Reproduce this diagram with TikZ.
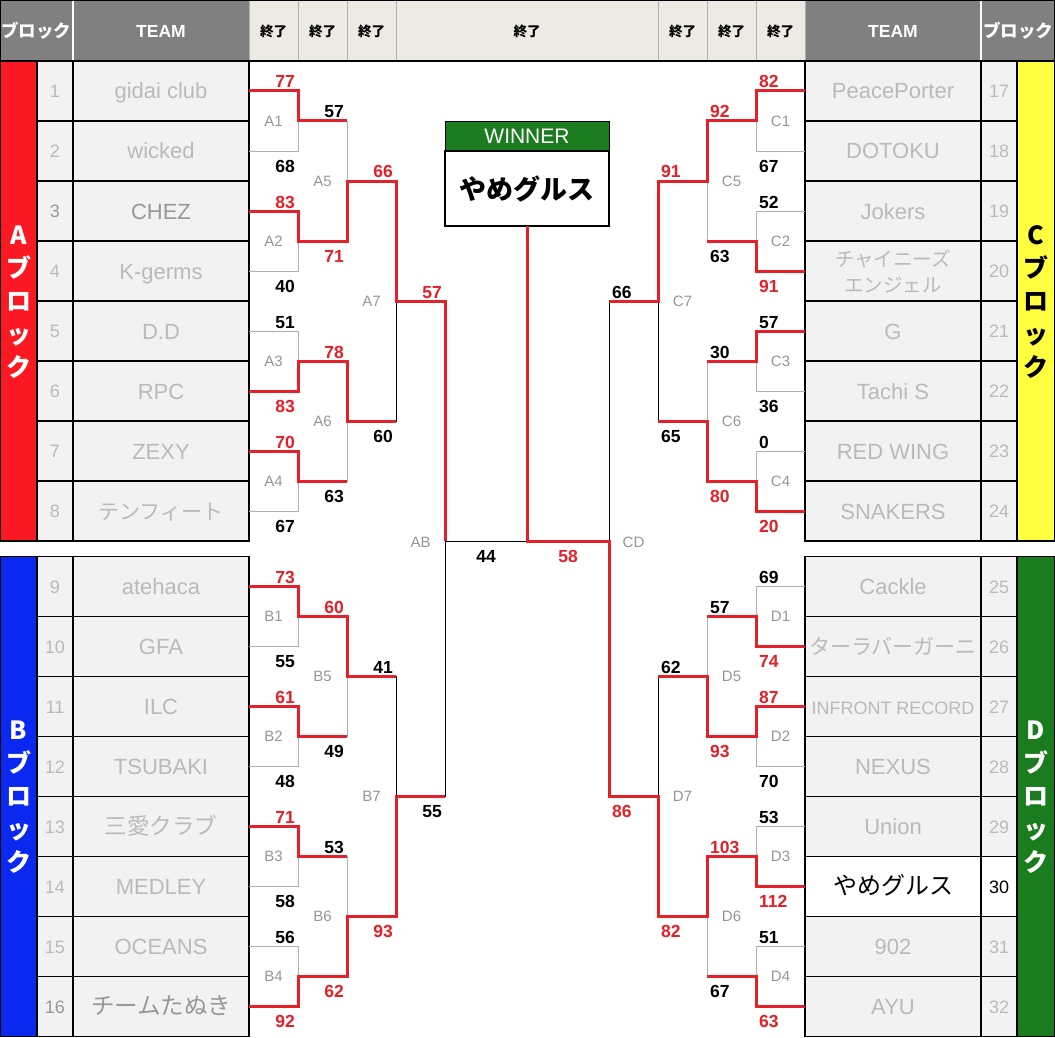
\documentclass[tikz,border=0pt]{standalone}
\usepackage{fontspec}
\setmainfont{Liberation Sans}
\newfontfamily\jp{Noto Sans CJK JP}
\definecolor{wred}{RGB}{228,32,40}
\definecolor{barA}{RGB}{250,25,35}
\definecolor{barB}{RGB}{10,40,240}
\definecolor{barC}{RGB}{255,255,64}
\definecolor{barD}{RGB}{26,124,30}
\definecolor{hdr}{RGB}{128,128,128}
\definecolor{hdrb}{RGB}{236,234,226}
\definecolor{cellbg}{RGB}{242,242,242}
\definecolor{tgray}{RGB}{186,186,186}
\definecolor{tdark}{RGB}{152,152,152}
\definecolor{mgray}{RGB}{150,150,150}
\definecolor{bgray}{RGB}{175,175,175}
\tikzset{
  gline/.style={draw=bgray, line width=0.9pt},
  kline/.style={draw=black, line width=1pt},
  rline/.style={draw=wred, line width=3pt, line join=miter},
  gridline/.style={draw=black, line width=1.2pt},
  teamst/.style={font=\fontsize{22}{26}\selectfont, anchor=base, inner sep=0pt},
  numst/.style={font=\fontsize{18}{20}\selectfont, anchor=base, inner sep=0pt},
  scorest/.style={font=\bfseries\fontsize{17.5}{20}\selectfont, inner sep=0pt},
  matchst/.style={font=\fontsize{15}{17}\selectfont, text=mgray, inner sep=0pt, anchor=center},
  hdrst/.style={font=\bfseries\fontsize{17.5}{20}\selectfont, text=white, anchor=base, inner sep=0pt},
  endst/.style={font=\jp\bfseries\fontsize{13.5}{15}\selectfont, text=black, anchor=base, inner sep=0pt},
  blockst/.style={font=\jp\bfseries\fontsize{25}{27}\selectfont, anchor=base, inner sep=0pt},
}
\newcount\scn
\newcommand\LA[4]{\global\advance\scn by 1 \node[scorest,text=#4,anchor=base east] (sc\the\scn) at ({#1-3},{#2-3}) {#3};}
\newcommand\LB[4]{\global\advance\scn by 1 \node[scorest,text=#4,anchor=base east] (sc\the\scn) at ({#1-3},{#2+21}) {#3};}
\newcommand\RA[4]{\global\advance\scn by 1 \node[scorest,text=#4,anchor=base west] (sc\the\scn) at ({#1+3},{#2-3}) {#3};}
\newcommand\RB[4]{\global\advance\scn by 1 \node[scorest,text=#4,anchor=base west] (sc\the\scn) at ({#1+3},{#2+21}) {#3};}
\newcommand\TeamL[4]{%
  \node[numst,text=#4] (nl#2) at (55,{#1+6.5}) {#2};
  \node[teamst,text=#4] (tl#2) at (161,{#1+8}) {#3};}
\newcommand\TeamR[4]{%
  \node[numst,text=#4] (nr#2) at (999,{#1+6.5}) {#2};
  \node[teamst,text=#4] (tr#2) at (893,{#1+8}) {#3};}
\begin{document}
\begin{tikzpicture}[x=1pt,y=-1pt]
\useasboundingbox (0,0) rectangle (1055,1038);
\fill[white] (0,0) rectangle (1055,1038);
% ---------- header ----------
\fill[hdr] (0,0) rectangle (249,61);
\fill[hdr] (805,0) rectangle (1055,61);
\fill[hdrb] (249,0) rectangle (805,61);
\foreach \x in {249,298,347,396,658,707,756,805}{\draw[gline] (\x,0) -- (\x,61);}
\draw[white, line width=1.5pt] (73,0) -- (73,61);
\draw[white, line width=1.5pt] (981,0) -- (981,61);
\draw[gridline] (0,0.6) -- (1055,0.6);
\draw[gridline] (0,61) -- (1055,61);
\draw[gridline] (0.6,0) -- (0.6,61);
\draw[gridline] (1054.4,0) -- (1054.4,61);
\node[hdrst] (hbl) at (36.5,38) {\jp ブロック};
\node[hdrst] (htl) at (161,38) {TEAM};
\node[hdrst] (htr) at (893,38) {TEAM};
\node[hdrst] (hbr) at (1018,38) {\jp ブロック};
\node[endst] (e1) at (273.5,37) {終了};
\node[endst] (e2) at (322.5,37) {終了};
\node[endst] (e3) at (371.5,37) {終了};
\node[endst] (e4) at (527,37) {終了};
\node[endst] (e5) at (682.5,37) {終了};
\node[endst] (e6) at (731.5,37) {終了};
\node[endst] (e7) at (780.5,37) {終了};
% ---------- team tables ----------
\fill[cellbg] (37,61) rectangle (249,541);
\fill[cellbg] (37,556.5) rectangle (249,1036.5);
\fill[cellbg] (805,61) rectangle (1017,541);
\fill[cellbg] (805,556.5) rectangle (1017,1036.5);
\fill[white] (805,856.5) rectangle (1017,916.5);
\fill[barA] (0,61) rectangle (37,541);
\fill[barB] (0,556.5) rectangle (37,1036.5);
\fill[barC] (1017,61) rectangle (1054,541);
\fill[barD] (1017,556.5) rectangle (1054,1036.5);
\foreach \t in {61,556.5}{
  \draw[gridline] (0.6,\t) rectangle (249,\t+480);
  \draw[gridline] (37,\t) -- (37,\t+480);
  \draw[gridline] (73,\t) -- (73,\t+480);
  \draw[gridline] (805,\t) rectangle (1054.4,\t+480);
  \draw[gridline] (981,\t) -- (981,\t+480);
  \draw[gridline] (1017,\t) -- (1017,\t+480);
  \foreach \k in {1,...,7}{
    \draw[gridline] (37,\t+60*\k) -- (249,\t+60*\k);
    \draw[gridline] (805,\t+60*\k) -- (1017,\t+60*\k);
  }
}
% block labels
\foreach \c [count=\i] in {A,ブ,ロ,ッ,ク}{
  \node[blockst,text=white] (ba\i) at (18.5,{235+33*(\i-1)+9}) {\c};
}
\foreach \c [count=\i] in {C,ブ,ロ,ッ,ク}{
  \node[blockst,text=black] (bc\i) at (1035.5,{235+33*(\i-1)+9}) {\c};
}
\foreach \c [count=\i] in {B,ブ,ロ,ッ,ク}{
  \node[blockst,text=white] (bb\i) at (18.5,{730.5+33*(\i-1)+9}) {\c};
}
\foreach \c [count=\i] in {D,ブ,ロ,ッ,ク}{
  \node[blockst,text=white] (bd\i) at (1035.5,{730.5+33*(\i-1)+9}) {\c};
}
% team names
\TeamL{91}{1}{gidai club}{tgray}
\TeamL{151}{2}{wicked}{tgray}
\TeamL{211}{3}{CHEZ}{tdark}
\TeamL{271}{4}{K-germs}{tgray}
\TeamL{331}{5}{D.D}{tgray}
\TeamL{391}{6}{RPC}{tgray}
\TeamL{451}{7}{ZEXY}{tgray}
\TeamL{511}{8}{{\jp\fontsize{21}{23}\selectfont テンフィート}}{tgray}
\TeamL{586.5}{9}{atehaca}{tgray}
\TeamL{646.5}{10}{GFA}{tgray}
\TeamL{706.5}{11}{ILC}{tgray}
\TeamL{766.5}{12}{TSUBAKI}{tgray}
\TeamL{826.5}{13}{{\jp\fontsize{22.5}{24}\selectfont 三愛クラブ}}{tgray}
\TeamL{886.5}{14}{MEDLEY}{tgray}
\TeamL{946.5}{15}{OCEANS}{tgray}
\TeamL{1006.5}{16}{{\jp\fontsize{23.5}{25}\selectfont チームたぬき}}{tdark}
\TeamR{91}{17}{PeacePorter}{tgray}
\TeamR{151}{18}{DOTOKU}{tgray}
\TeamR{211}{19}{Jokers}{tgray}
\node[numst,text=tgray] (nr20) at (999,277.5) {20};
\node[teamst,text=tgray,font=\jp\fontsize{19.5}{21}\selectfont] (tr20a) at (893,266) {チャイニーズ};
\node[teamst,text=tgray,font=\jp\fontsize{19.5}{21}\selectfont] (tr20b) at (893,292) {エンジェル};
\TeamR{331}{21}{G}{tgray}
\TeamR{391}{22}{Tachi S}{tgray}
\TeamR{451}{23}{RED WING}{tgray}
\TeamR{511}{24}{SNAKERS}{tgray}
\TeamR{586.5}{25}{Cackle}{tgray}
\TeamR{646.5}{26}{{\jp\fontsize{21}{23}\selectfont ターラバーガーニ}}{tgray}
\TeamR{706.5}{27}{{\fontsize{18}{20}\selectfont INFRONT RECORD}}{tgray}
\TeamR{766.5}{28}{NEXUS}{tgray}
\TeamR{826.5}{29}{Union}{tgray}
\TeamR{886.5}{30}{{\jp\fontsize{24}{26}\selectfont やめグルス}}{black}
\TeamR{946.5}{31}{902}{tgray}
\TeamR{1006.5}{32}{AYU}{tgray}
% ---------- bracket thin lines ----------
\foreach \t/\b in {91/151,211/271,331/391,451/511,586.5/646.5,706.5/766.5,826.5/886.5,946.5/1006.5}{
  \draw[gline] (249,\t) -- (298,\t) -- (298,\b) -- (249,\b);
  \draw[gline] (805,\t) -- (756,\t) -- (756,\b) -- (805,\b);
}
\foreach \t/\b in {121/241,361/481,616.5/736.5,856.5/976.5}{
  \draw[gline] (298,\t) -- (347,\t) -- (347,\b) -- (298,\b);
  \draw[gline] (756,\t) -- (707,\t) -- (707,\b) -- (756,\b);
}
\foreach \t/\b in {181/421,676.5/916.5}{
  \draw[kline] (347,\t) -- (396,\t) -- (396,\b) -- (347,\b);
  \draw[kline] (707,\t) -- (658,\t) -- (658,\b) -- (707,\b);
}
\draw[kline] (396,301) -- (445,301) -- (445,796.5) -- (396,796.5);
\draw[kline] (658,301) -- (609,301) -- (609,796.5) -- (658,796.5);
\draw[kline] (445,541) -- (609,541);
% ---------- winner box ----------
\fill[barD] (445,122) rectangle (609,151.5);
\draw[black, line width=1pt] (445,122) rectangle (609,151.5);
\node[font=\fontsize{21}{23}\selectfont, text=white, anchor=base, inner sep=0pt] (win) at (527,144) {WINNER};
\draw[black, line width=2pt, fill=white] (445,151.5) rectangle (609,226);
\node[font=\jp\bfseries\fontsize{27}{29}\selectfont, anchor=base, inner sep=0pt] (champ) at (527,200) {やめグルス};
% ---------- red paths ----------
\draw[rline] (249,91) -- (298,91) -- (298,121) -- (347,121);
\draw[rline] (249,211) -- (298,211) -- (298,241) -- (347,241) -- (347,181) -- (396,181) -- (396,301) -- (445,301) -- (445,541);
\draw[rline] (249,391) -- (298,391) -- (298,361) -- (347,361) -- (347,421) -- (396,421);
\draw[rline] (249,451) -- (298,451) -- (298,481) -- (347,481);
\draw[rline] (249,586.5) -- (298,586.5) -- (298,616.5) -- (347,616.5) -- (347,676.5) -- (396,676.5);
\draw[rline] (249,706.5) -- (298,706.5) -- (298,736.5) -- (347,736.5);
\draw[rline] (249,826.5) -- (298,826.5) -- (298,856.5) -- (347,856.5);
\draw[rline] (249,1006.5) -- (298,1006.5) -- (298,976.5) -- (347,976.5) -- (347,916.5) -- (396,916.5) -- (396,796.5) -- (445,796.5);
\draw[rline] (805,91) -- (756,91) -- (756,121) -- (707,121) -- (707,181) -- (658,181) -- (658,301) -- (609,301);
\draw[rline] (805,271) -- (756,271) -- (756,241) -- (707,241);
\draw[rline] (805,331) -- (756,331) -- (756,361) -- (707,361);
\draw[rline] (805,511) -- (756,511) -- (756,481) -- (707,481) -- (707,421) -- (658,421);
\draw[rline] (805,646.5) -- (756,646.5) -- (756,616.5) -- (707,616.5);
\draw[rline] (805,706.5) -- (756,706.5) -- (756,736.5) -- (707,736.5) -- (707,676.5) -- (658,676.5);
\draw[rline] (805,886.5) -- (756,886.5) -- (756,856.5) -- (707,856.5) -- (707,916.5) -- (658,916.5) -- (658,796.5) -- (609,796.5) -- (609,541) -- (527,541) -- (champ.south |- 0,226);
\draw[rline] (805,1006.5) -- (756,1006.5) -- (756,976.5) -- (707,976.5);
% ---------- match labels ----------
\foreach \n/\y in {1/121,2/241,3/361,4/481}{
  \node[matchst] (mA\n) at (273.5,\y) {A\n};
  \node[matchst] (mC\n) at (780.5,\y) {C\n};
}
\foreach \n/\y in {1/616.5,2/736.5,3/856.5,4/976.5}{
  \node[matchst] (mB\n) at (273.5,\y) {B\n};
  \node[matchst] (mD\n) at (780.5,\y) {D\n};
}
\node[matchst] (mA5) at (322.5,181) {A5};
\node[matchst] (mA6) at (322.5,421) {A6};
\node[matchst] (mA7) at (371.5,301) {A7};
\node[matchst] (mB5) at (322.5,676.5) {B5};
\node[matchst] (mB6) at (322.5,916.5) {B6};
\node[matchst] (mB7) at (371.5,796.5) {B7};
\node[matchst] (mC5) at (731.5,181) {C5};
\node[matchst] (mC6) at (731.5,421) {C6};
\node[matchst] (mC7) at (682.5,301) {C7};
\node[matchst] (mD5) at (731.5,676.5) {D5};
\node[matchst] (mD6) at (731.5,916.5) {D6};
\node[matchst] (mD7) at (682.5,796.5) {D7};
\node[matchst] (mAB) at (420.5,542) {AB};
\node[matchst] (mCD) at (633.5,542) {CD};
% ---------- scores ----------
\LA{298}{91}{77}{wred}
\LB{298}{151}{68}{black}
\LA{298}{211}{83}{wred}
\LB{298}{271}{40}{black}
\LA{298}{331}{51}{black}
\LB{298}{391}{83}{wred}
\LA{298}{451}{70}{wred}
\LB{298}{511}{67}{black}
\LA{298}{586.5}{73}{wred}
\LB{298}{646.5}{55}{black}
\LA{298}{706.5}{61}{wred}
\LB{298}{766.5}{48}{black}
\LA{298}{826.5}{71}{wred}
\LB{298}{886.5}{58}{black}
\LA{298}{946.5}{56}{black}
\LB{298}{1006.5}{92}{wred}
\LA{347}{121}{57}{black}
\LB{347}{241}{71}{wred}
\LA{347}{361}{78}{wred}
\LB{347}{481}{63}{black}
\LA{347}{616.5}{60}{wred}
\LB{347}{736.5}{49}{black}
\LA{347}{856.5}{53}{black}
\LB{347}{976.5}{62}{wred}
\LA{396}{181}{66}{wred}
\LB{396}{421}{60}{black}
\LA{396}{676.5}{41}{black}
\LB{396}{916.5}{93}{wred}
\LA{445}{301}{57}{wred}
\LB{445}{796.5}{55}{black}
\RA{756}{91}{82}{wred}
\RB{756}{151}{67}{black}
\RA{756}{211}{52}{black}
\RB{756}{271}{91}{wred}
\RA{756}{331}{57}{black}
\RB{756}{391}{36}{black}
\RA{756}{451}{0}{black}
\RB{756}{511}{20}{wred}
\RA{756}{586.5}{69}{black}
\RB{756}{646.5}{74}{wred}
\RA{756}{706.5}{87}{wred}
\RB{756}{766.5}{70}{black}
\RA{756}{826.5}{53}{black}
\RB{756}{886.5}{112}{wred}
\RA{756}{946.5}{51}{black}
\RB{756}{1006.5}{63}{wred}
\RA{707}{121}{92}{wred}
\RB{707}{241}{63}{black}
\RA{707}{361}{30}{black}
\RB{707}{481}{80}{wred}
\RA{707}{616.5}{57}{black}
\RB{707}{736.5}{93}{wred}
\RA{707}{856.5}{103}{wred}
\RB{707}{976.5}{67}{black}
\RA{658}{181}{91}{wred}
\RB{658}{421}{65}{black}
\RA{658}{676.5}{62}{black}
\RB{658}{916.5}{82}{wred}
\RA{609}{301}{66}{black}
\RB{609}{796.5}{86}{wred}
\node[scorest,text=black,anchor=base] (f44) at (486,562) {44};
\node[scorest,text=wred,anchor=base] (f58) at (568,562) {58};
\end{tikzpicture}
\end{document}
